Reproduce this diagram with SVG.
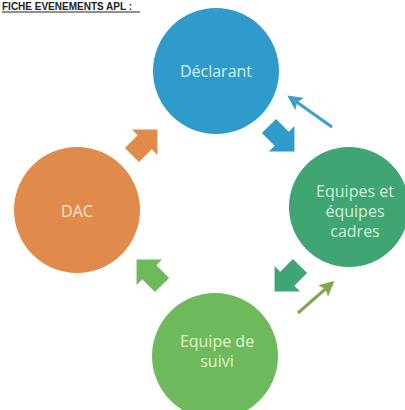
<svg xmlns="http://www.w3.org/2000/svg" width="405" height="410" viewBox="0 0 405 410">
<style>
.lbl{font-family:"Open Sans","Liberation Sans",sans-serif;font-size:16px;text-anchor:middle}
.title{font-family:"Liberation Sans",Arial,sans-serif;font-size:10px;font-weight:bold;fill:#222}
</style>
<defs>
<path id="blk" d="M-17,-10 L1,-10 L1,-18 L19,0 L1,18 L1,10 L-17,10 Z"/>
<marker id="hb" viewBox="0 0 10 10" refX="7" refY="5" markerWidth="5" markerHeight="5" orient="auto"><path d="M0,0 L10,5 L0,10 L2,5 Z" fill="#3a9fcc"/></marker>
<marker id="hg" viewBox="0 0 10 10" refX="7" refY="5" markerWidth="5" markerHeight="5" orient="auto"><path d="M0,0 L10,5 L0,10 L2,5 Z" fill="#7cab4c"/></marker>
</defs>
<rect width="405" height="410" fill="#ffffff"/>
<text class="title" x="2" y="10">FICHE EVENEMENTS APL :</text>
<line x1="2" y1="12" x2="140" y2="12" stroke="#222" stroke-width="1.2"/>
<g id="declarant">
<circle cx="216" cy="71" r="63" fill="#2f9bcb"/>
<text class="lbl" x="216" y="77" fill="#d2f0fa">Déclarant</text>
</g>
<g id="equipes">
<circle cx="349" cy="207" r="60" fill="#3ea573"/>
<text class="lbl" x="355" y="197" fill="#d4f2de">Equipes  et</text>
<text class="lbl" x="355" y="217" fill="#d4f2de">équipes</text>
<text class="lbl" x="355" y="237" fill="#d4f2de">cadres</text>
</g>
<g id="dac">
<circle cx="77" cy="210" r="63" fill="#e08a4b"/>
<text class="lbl" x="77" y="217" fill="#fde6c6">DAC</text>
</g>
<g id="suivi">
<circle cx="215" cy="356" r="63" fill="#6db95b"/>
<text class="lbl" x="217" y="347" fill="#e2f6cc">Equipe de</text>
<text class="lbl" x="217" y="367" fill="#e2f6cc">suivi</text>
</g>
<g id="connectors">
<use href="#blk" transform="translate(144,143) rotate(-45)" fill="#e08a4b"/>
<use href="#blk" transform="translate(281,138) rotate(45)" fill="#2f9bcb"/>
<use href="#blk" transform="translate(288,278) rotate(135)" fill="#3ea573"/>
<use href="#blk" transform="translate(150,273) rotate(-135)" fill="#6db95b"/>
<line x1="332" y1="127" x2="291" y2="98" stroke="#3a9fcc" stroke-width="3" marker-end="url(#hb)"/>
<line x1="298" y1="313" x2="331" y2="284" stroke="#7cab4c" stroke-width="3" marker-end="url(#hg)"/>
</g>
</svg>
